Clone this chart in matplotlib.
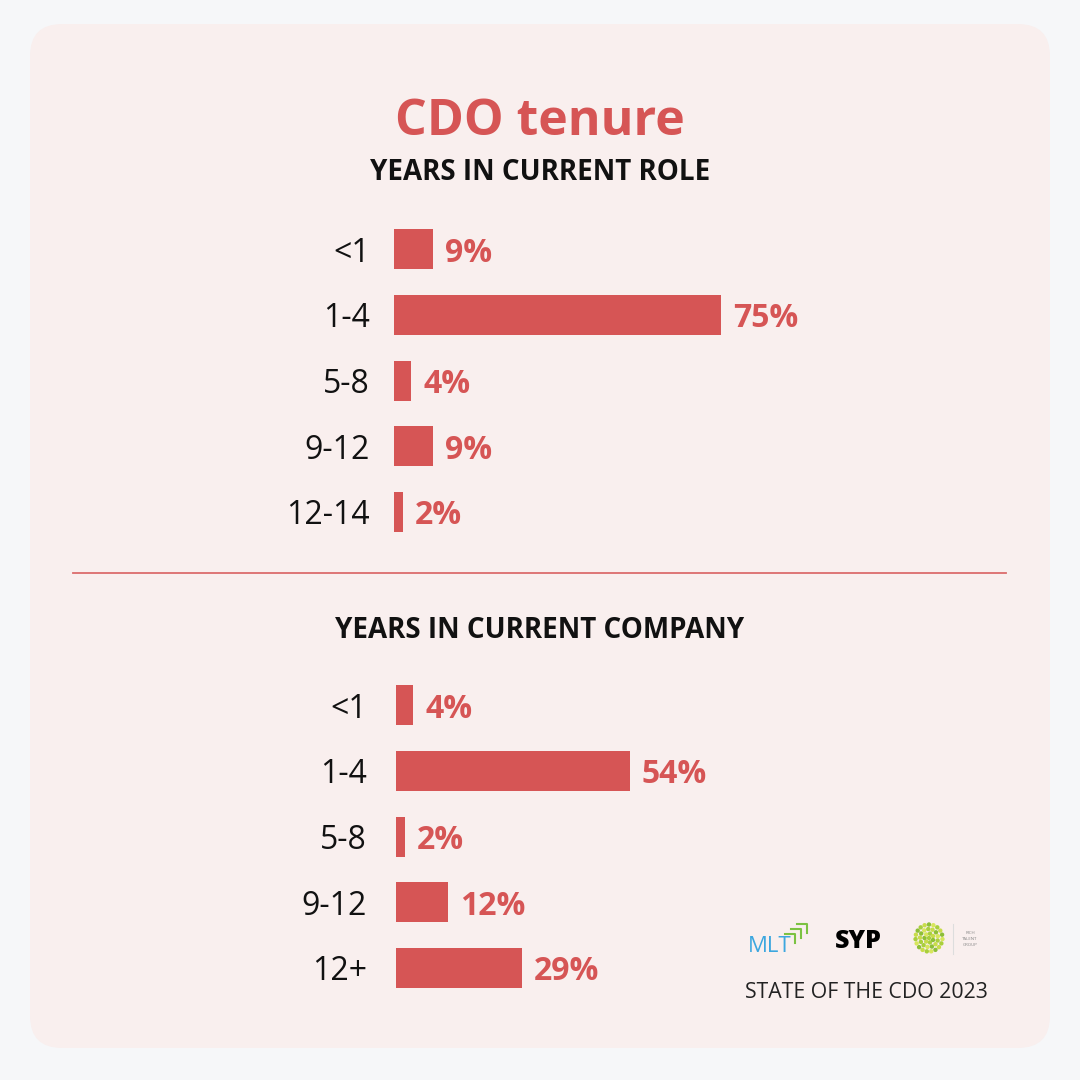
import matplotlib
matplotlib.use("Agg")
import matplotlib.pyplot as plt
from matplotlib.patches import FancyBboxPatch
import numpy as np

plt.rcParams["font.family"] = ["Open Sans", "DejaVu Sans"]

# data
role_labels = ["<1", "1-4", "5-8", "9-12", "12-14"]
role_values = [9, 75, 4, 9, 2]
company_labels = ["<1", "1-4", "5-8", "9-12", "12+"]
company_values = [4, 54, 2, 12, 29]

RED = "#D65555"
CARD = "#F9EFEE"
PAGE = "#F6F7F9"

W = H = 1080
fig = plt.figure(figsize=(10.8, 10.8), dpi=100, facecolor=PAGE)

# background / decoration layer in pixel coordinates
bg = fig.add_axes([0, 0, 1, 1], zorder=0)
bg.set_xlim(0, W)
bg.set_ylim(H, 0)
bg.axis("off")
bg.add_patch(FancyBboxPatch((30, 24), 1020, 1024,
                            boxstyle="round,pad=0,rounding_size=32",
                            facecolor=CARD, edgecolor="none"))
bg.text(540, 122, "CDO tenure", ha="center", va="center",
        fontsize=36, fontweight="bold", color=RED)
bg.text(540, 172, "YEARS IN CURRENT ROLE", ha="center", va="center",
        fontsize=20, fontweight="bold", color="#111111")
bg.plot([73, 1006], [573, 573], color=RED, lw=1.3, alpha=0.85)
bg.text(540, 631, "YEARS IN CURRENT COMPANY", ha="center", va="center",
        fontsize=20, fontweight="bold", color="#111111")

# footer logos
bg.text(748, 946, "MLT", ha="left", va="center", fontsize=16,
        color="#3CA7DF")
for k in range(3):
    x0 = 785 + k * 6
    y0 = 934 - k * 5
    bg.plot([x0, x0 + 10, x0 + 10], [y0, y0, y0 + 9], color="#7CC242", lw=1.5)
bg.text(858, 941, "SYP", ha="center", va="center", fontsize=18,
        fontweight="heavy", color="#000000")
cx, cy = 929, 938
dots_x, dots_y, dots_c = [], [], []
for r, n in [(0, 1), (4.5, 7), (9, 13), (13.5, 19)]:
    for j in range(n):
        a = 2 * np.pi * j / n + r * 0.3
        dots_x.append(cx + r * np.cos(a))
        dots_y.append(cy + r * np.sin(a))
        dots_c.append(["#A9CF3C", "#C8DC4A", "#8DBF37", "#D7E65C"][j % 4])
bg.scatter(dots_x, dots_y, s=10, c=dots_c, edgecolors="none")
bg.plot([953, 953], [924, 954], color="#DDDDDD", lw=0.8)
bg.text(970, 939, "RICH\nTALENT\nGROUP", ha="center", va="center",
        fontsize=3.2, color="#888888", linespacing=1.6)
bg.text(866, 993, "STATE OF THE CDO 2023", ha="center", va="center",
        fontsize=15.3, color="#222222")


def bar_panel(left_px, top_px, px_per_pct, labels, values, label_x_px):
    step = 65.75
    height_px = step * len(labels)
    width_px = px_per_pct * 100
    ax = fig.add_axes([left_px / W, 1 - (top_px + height_px) / H,
                       width_px / W, height_px / H], zorder=1)
    ax.patch.set_alpha(0)
    y = np.arange(len(labels))
    ax.barh(y, values, height=40 / step, color=RED, left=0)
    ax.set_xlim(0, 100)
    ax.set_ylim(len(labels) - 0.5, -0.5)
    ax.set_yticks(y)
    ax.set_yticklabels(labels, fontsize=23, color="#111111")
    ax.tick_params(axis="y", length=0, pad=(left_px - label_x_px) * 0.72)
    ax.set_xticks([])
    for s in ax.spines.values():
        s.set_visible(False)
    for yi, v in zip(y, values):
        ax.annotate(f"{v}%", (v, yi), xytext=(8.6, 0), textcoords="offset points",
                    ha="left", va="center_baseline", fontsize=23,
                    fontweight="bold", color=RED)
    return ax


bar_panel(394, 249 - 65.75 / 2, 4.36, role_labels, role_values, 370)
bar_panel(396, 705 - 65.75 / 2, 4.33, company_labels, company_values, 367)

fig.savefig("out.png", dpi=100, facecolor=PAGE)
